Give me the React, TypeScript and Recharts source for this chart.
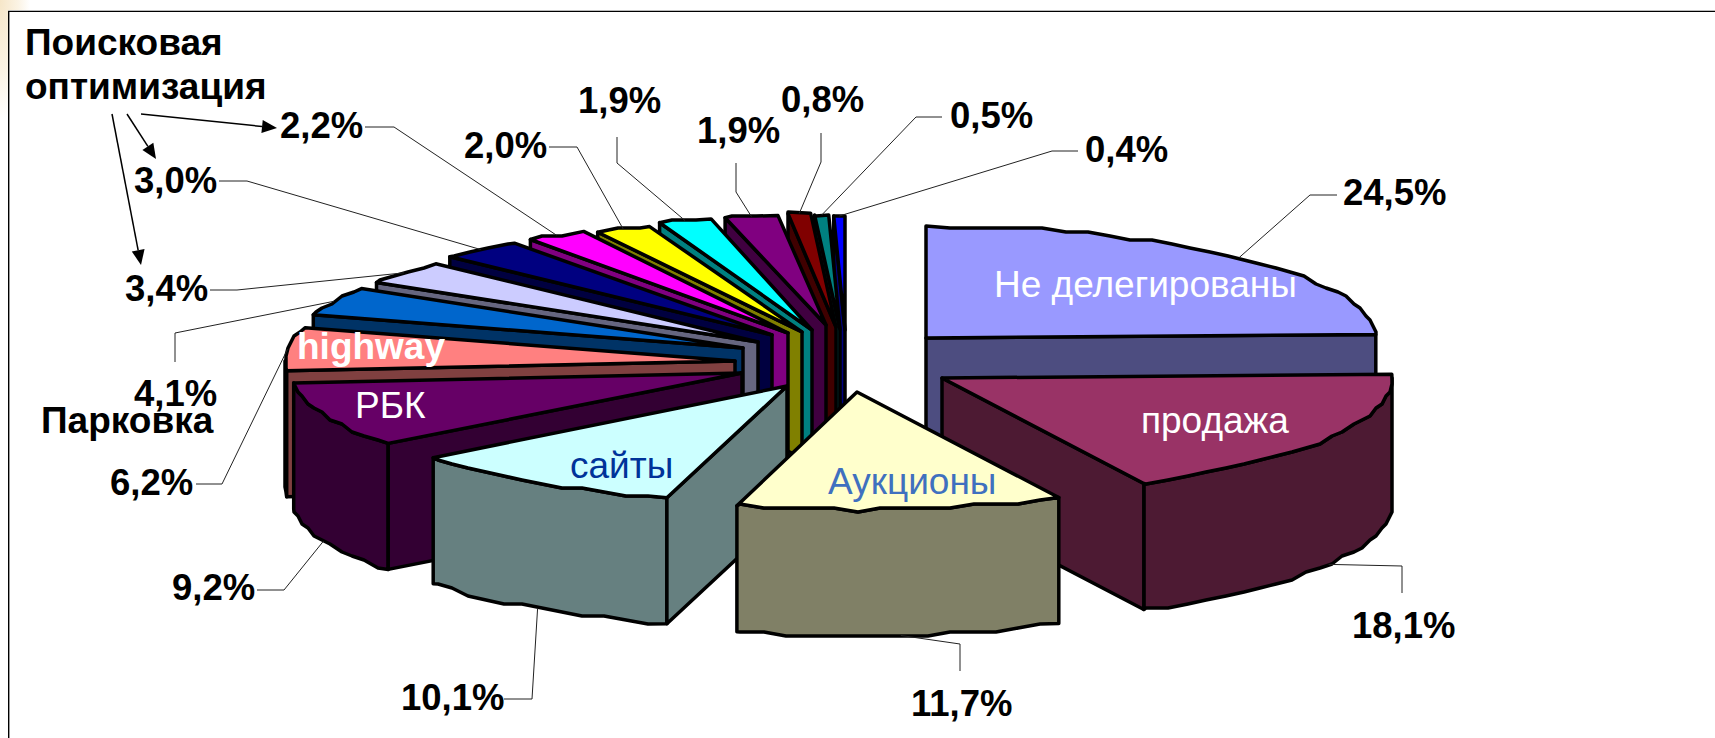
import { PieChart, Pie } from 'recharts'

// shares of the .ru domains, clockwise from 12 o'clock
const sliceNames = [
  'Не делегированы', 'продажа', 'Аукционы', 'сайты', 'РБК', 'highway',
  '', '', '', '', '', '', '', '', '', '',
]
const shares = [24.5, 18.1, 11.7, 10.1, 9.2, 6.2, 4.1, 3.4, 3.0, 2.2, 2.0, 1.9, 1.9, 0.8, 0.5, 0.4]
const topColors = [
  '#9999FF', '#993366', '#FFFFCC', '#CCFFFF', '#660066', '#FF8080', '#0066CC', '#CCCCFF',
  '#000080', '#FF00FF', '#FFFF00', '#00FFFF', '#800080', '#800000', '#008080', '#0000FF',
]
const wallColors = [
  '#4D4D80', '#4D1A33', '#808066', '#668080', '#330033', '#804040', '#003366', '#666680',
  '#000040', '#800080', '#808000', '#008080', '#400040', '#400000', '#004040', '#000080',
]

// explode offset of each wedge from the pie centre
const explode = [
  [81, 8], [97, 48], [12, 62], [-58, 56], [-103, 43], [-110, 31], [-102, 18], [-87, 12],
  [-73, 5], [-57, 3], [-43, 2], [-33, 0], [-19, -5], [-9, -3], [-5, -1], [0, 0],
]
// squash of each wedge, the front ones look a little taller
const squash = [1.12, 1.18, 1.18, 1.16, 1.14, 1.12, 1.12, 1.12, 1.12, 1.14, 1.12, 1.14, 1.1, 1.14, 1.14, 1.14]
// far slices first, front slices last
const paintOrder = [0, 15, 14, 13, 12, 11, 10, 9, 8, 7, 6, 5, 4, 3, 1, 2]

// text left, baseline, then leader elbow and end
const labelSpots = [
  [1343, 205, 1310, 195, 1337, 195],
  [1352, 638, 1402, 566, 1402, 593],
  [911, 716, 960, 644, 960, 671],
  [401, 710, 532, 699, 504, 699],
  [172, 600, 284, 590, 257, 590],
  [110, 495, 222, 484, 196, 484],
  [134, 406, 175, 333, 175, 362],
  [125, 301, 237, 290, 210, 290],
  [134, 193, 247, 181, 219, 181],
  [280, 138, 394, 127, 365, 127],
  [464, 158, 577, 147, 549, 147],
  [578, 113, 617, 163, 617, 137],
  [697, 143, 736, 192, 736, 163],
  [781, 112, 821, 162, 821, 133],
  [950, 128, 916, 117, 942, 117],
  [1085, 162, 1052, 151, 1078, 151],
]
// captions on the wedge tops: left, baseline, colour, bold
const nameSpots: [number, number, string, boolean][] = [
  [994, 297, '#fff', false],
  [1141, 433, '#fff', false],
  [828, 494, '#3F70BF', false],
  [570, 478, '#003399', false],
  [355, 418, '#fff', false],
  [297, 359, '#fff', true],
]

const CX = 845
const CY = 330
const RADIUS = 100
const RX = 4.5
const DEPTH = 126
const FONT = '"Liberation Sans", Arial, sans-serif'

const rad = (deg: number) => (deg * Math.PI) / 180

function rim(x0: number, y0: number, r: number, ry: number, theta: number) {
  return [x0 + r * RX * Math.sin(rad(theta)), y0 - r * ry * Math.cos(rad(theta))]
}

// the original arcs are rough, so the points are snapped to a coarse grid
function arcPoints(x0: number, y0: number, r: number, ry: number, from: number, to: number) {
  const pts = [rim(x0, y0, r, ry, from)]
  const first = Math.ceil(from / 3 + 0.01) * 3
  for (let t = first; t < to; t += 3) {
    const [x, y] = rim(x0, y0, r, ry, t)
    pts.push([Math.round(x / 2) * 2, Math.round(y / 4) * 4])
  }
  pts.push(rim(x0, y0, r, ry, to))
  return pts
}

const toPath = (pts: number[][]) => 'M' + pts.map((p) => `${p[0].toFixed(1)},${p[1].toFixed(1)}`).join('L') + 'Z'

function Wedge(props: any) {
  const { cx, cy, outerRadius, startAngle, endAngle, index } = props
  const from = 90 - startAngle
  const to = 90 - endAngle
  const x0 = cx + explode[index][0]
  const y0 = cy + explode[index][1]
  const ry = squash[index]
  const line = { stroke: '#000', strokeWidth: 3.5, strokeLinejoin: 'round' as const }
  const wall = wallColors[index]
  const faces = []

  const wallFrom = Math.max(from, 90)
  const wallTo = Math.min(to, 270)
  if (wallFrom < wallTo) {
    const upper = arcPoints(x0, y0, outerRadius, ry, wallFrom, wallTo)
    const lower = arcPoints(x0, y0 + DEPTH, outerRadius, ry, wallFrom, wallTo).reverse()
    faces.push(<path key="outer" d={toPath([...upper, ...lower])} fill={wall} {...line} />)
  }
  // a flat side shows only when it looks towards the viewer
  const sides = [
    { theta: from, seen: Math.sin(rad(from)) < -0.001 },
    { theta: to, seen: Math.sin(rad(to)) > 0.001 },
  ]
  sides.forEach((s, i) => {
    if (!s.seen) return
    const p = rim(x0, y0, outerRadius, ry, s.theta)
    const pts = [[x0, y0], p, [p[0], p[1] + DEPTH], [x0, y0 + DEPTH]]
    faces.push(<path key={`side${i}`} d={toPath(pts)} fill={wall} {...line} />)
  })

  return (
    <g>
      {faces}
      <path d={toPath([[x0, y0], ...arcPoints(x0, y0, outerRadius, ry, from, to)])} fill={topColors[index]} {...line} />
    </g>
  )
}

function ShareLabel(props: any) {
  const { cx, cy, outerRadius, midAngle, index, value } = props
  const theta = 90 - midAngle
  const front = Math.cos(rad(theta)) < 0 && Math.sin(rad(theta)) > -0.95
  const start = rim(cx + explode[index][0], cy + explode[index][1] + (front ? DEPTH : 0), outerRadius, squash[index], theta)
  const [tx, ty, ex, ey, lx, ly] = labelSpots[index]
  const spot = nameSpots[index]
  return (
    <g>
      <polyline points={`${start[0]},${start[1]} ${ex},${ey} ${lx},${ly}`} fill="none" stroke="#222" strokeWidth={1} />
      <text x={tx} y={ty} fontFamily={FONT} fontWeight="bold" fontSize={36.5} fill="#000">
        {value.toFixed(1).replace('.', ',') + '%'}
      </text>
      {spot && (
        <text x={spot[0]} y={spot[1]} fontFamily={FONT} fontSize={37} fontWeight={spot[3] ? 'bold' : 'normal'} fill={spot[2]}>
          {sliceNames[index]}
        </text>
      )}
    </g>
  )
}

const rows = sliceNames.map((name, i) => ({ name, share: shares[i] }))

function Arrow({ x1, y1, x2, y2 }: { x1: number; y1: number; x2: number; y2: number }) {
  const a = Math.atan2(y2 - y1, x2 - x1)
  const bx = x2 - 15 * Math.cos(a)
  const by = y2 - 15 * Math.sin(a)
  const nx = 6.5 * Math.sin(a)
  const ny = 6.5 * Math.cos(a)
  return (
    <g>
      <line x1={x1} y1={y1} x2={bx} y2={by} stroke="#000" strokeWidth={1.5} />
      <polygon points={`${x2},${y2} ${bx + nx},${by - ny} ${bx - nx},${by + ny}`} fill="#000" />
    </g>
  )
}

function Caption({ x, y, size, children }: any) {
  return (
    <text x={x} y={y} fontFamily={FONT} fontSize={size} fontWeight="bold" fill="#000">
      {children}
    </text>
  )
}

export default function App() {
  return (
    <div
      style={{
        position: 'absolute',
        left: 0,
        top: 0,
        width: 1715,
        height: 738,
        background: 'radial-gradient(ellipse 30px 120px at 0 0, #f6e6c8 0, #fbf3e4 60%, #fff 100%)',
      }}
    >
      <div style={{ position: 'absolute', left: 9, top: 11, width: 1706, height: 727, background: '#fff' }} />
      <div style={{ position: 'absolute', left: 0, top: 0 }}>
        <PieChart width={1715} height={738} margin={{ top: 0, right: 0, bottom: 0, left: 0 }}>
          {paintOrder.map((slice) => (
            <Pie
              key={slice}
              data={rows}
              dataKey="share"
              nameKey="name"
              cx={CX}
              cy={CY}
              outerRadius={RADIUS}
              startAngle={90}
              endAngle={-270}
              stroke="none"
              isAnimationActive={false}
              shape={(p: any) => (p.index === slice ? <Wedge {...p} /> : <g />)}
            />
          ))}
          <Pie
            data={rows}
            dataKey="share"
            cx={CX}
            cy={CY}
            outerRadius={RADIUS}
            startAngle={90}
            endAngle={-270}
            fill="none"
            stroke="none"
            isAnimationActive={false}
            shape={() => <g />}
            label={(p: any) => <ShareLabel {...p} />}
            labelLine={false}
          />
          <g>
            <line x1={8} y1={10.5} x2={1715} y2={10.5} stroke="#bbb" strokeWidth={1} />
            <line x1={8} y1={11.5} x2={1715} y2={11.5} stroke="#000" strokeWidth={1} />
            <line x1={8.5} y1={11} x2={8.5} y2={738} stroke="#000" strokeWidth={1} />
            <line x1={9.5} y1={12} x2={9.5} y2={738} stroke="#999" strokeWidth={1} />
            <Caption x={25} y={55} size={37}>Поисковая</Caption>
            <Caption x={25} y={99} size={37}>оптимизация</Caption>
            <Caption x={41} y={433} size={37}>Парковка</Caption>
            <Arrow x1={141} y1={114} x2={277} y2={128} />
            <Arrow x1={127} y1={114} x2={156} y2={159} />
            <Arrow x1={112} y1={114} x2={141} y2={265} />
          </g>
        </PieChart>
      </div>
    </div>
  )
}
